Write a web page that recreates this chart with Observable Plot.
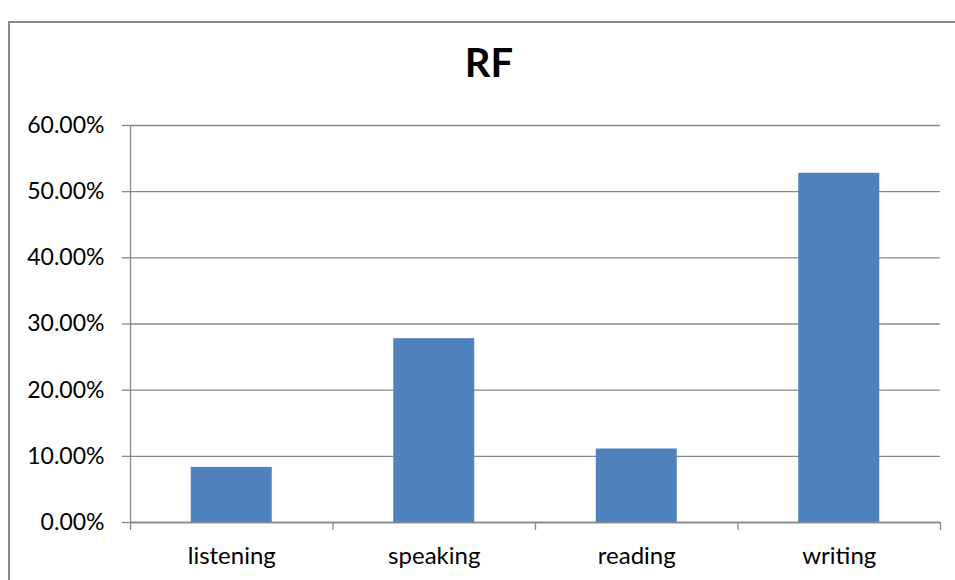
<!DOCTYPE html>
<html>
<head>
<meta charset="utf-8">
<script src="https://cdn.jsdelivr.net/npm/d3@7"></script>
<script src="https://cdn.jsdelivr.net/npm/@observablehq/plot@0.6"></script>
<style>
  html, body { margin: 0; padding: 0; background: #fff; overflow: hidden; width: 955px; height: 580px; }
  #wrap { position: relative; width: 955px; height: 580px; font-family: Lato, "Open Sans", sans-serif; }
  #frame { position: absolute; left: 8px; top: 21px; width: 1000px; height: 700px; border: 2px solid #898989; box-sizing: border-box; }
  #title { position: absolute; left: 389px; width: 200px; top: 38px; text-align: center; font: bold 40px Lato, "Open Sans", sans-serif; color: #000; line-height: 48px; }
  #chart { position: absolute; left: 0; top: 0; }
</style>
</head>
<body>
<div id="wrap">
  <div id="frame"></div>
  <div id="title">RF</div>
  <div id="chart"></div>
</div>
<script>
const categories = ["listening", "speaking", "reading", "writing"];
const values = [0.0833, 0.2778, 0.1111, 0.5278];
const yTicks = [0, 0.1, 0.2, 0.3, 0.4, 0.5, 0.6];

const data = categories.map((c, i) => ({skill: c, index: i, value: values[i]}));
const gray = "#898989";

const chart = Plot.plot({
  width: 955,
  height: 580,
  marginLeft: 130,
  marginRight: 15,
  marginTop: 125,
  marginBottom: 58,
  style: {fontFamily: "Lato, 'Open Sans', sans-serif", fontSize: "23px", color: "#000", background: "transparent"},
  x: {type: "linear", domain: [0, categories.length]},
  y: {domain: [0, 0.6]},
  marks: [
    Plot.gridY(yTicks, {stroke: gray, strokeOpacity: 1, strokeWidth: 1.3}),
    Plot.rectY(data, {x1: d => d.index + 0.3, x2: d => d.index + 0.7, y: "value", fill: "#4F81BD"}),
    Plot.ruleX([0], {stroke: gray, strokeWidth: 1.3}),
    Plot.ruleY([0], {stroke: gray, strokeWidth: 1.3}),
    Plot.axisY({ticks: yTicks, tickFormat: d3.format(".2%"), tickSize: 8, tickPadding: 18, stroke: gray, strokeWidth: 1.3, fill: "#000", fontSize: 23, label: null}),
    Plot.axisX({ticks: d3.range(0, categories.length + 1), tickFormat: () => "", tickSize: 8, stroke: gray, strokeWidth: 1.3, label: null}),
    Plot.axisX({ticks: categories.map((c, i) => i + 0.5), tickFormat: v => categories[Math.floor(v)], tickSize: 0, tickPadding: 24, fill: "#000", fontSize: 24, label: null})
  ]
});
document.getElementById("chart").appendChild(chart);
</script>
</body>
</html>
